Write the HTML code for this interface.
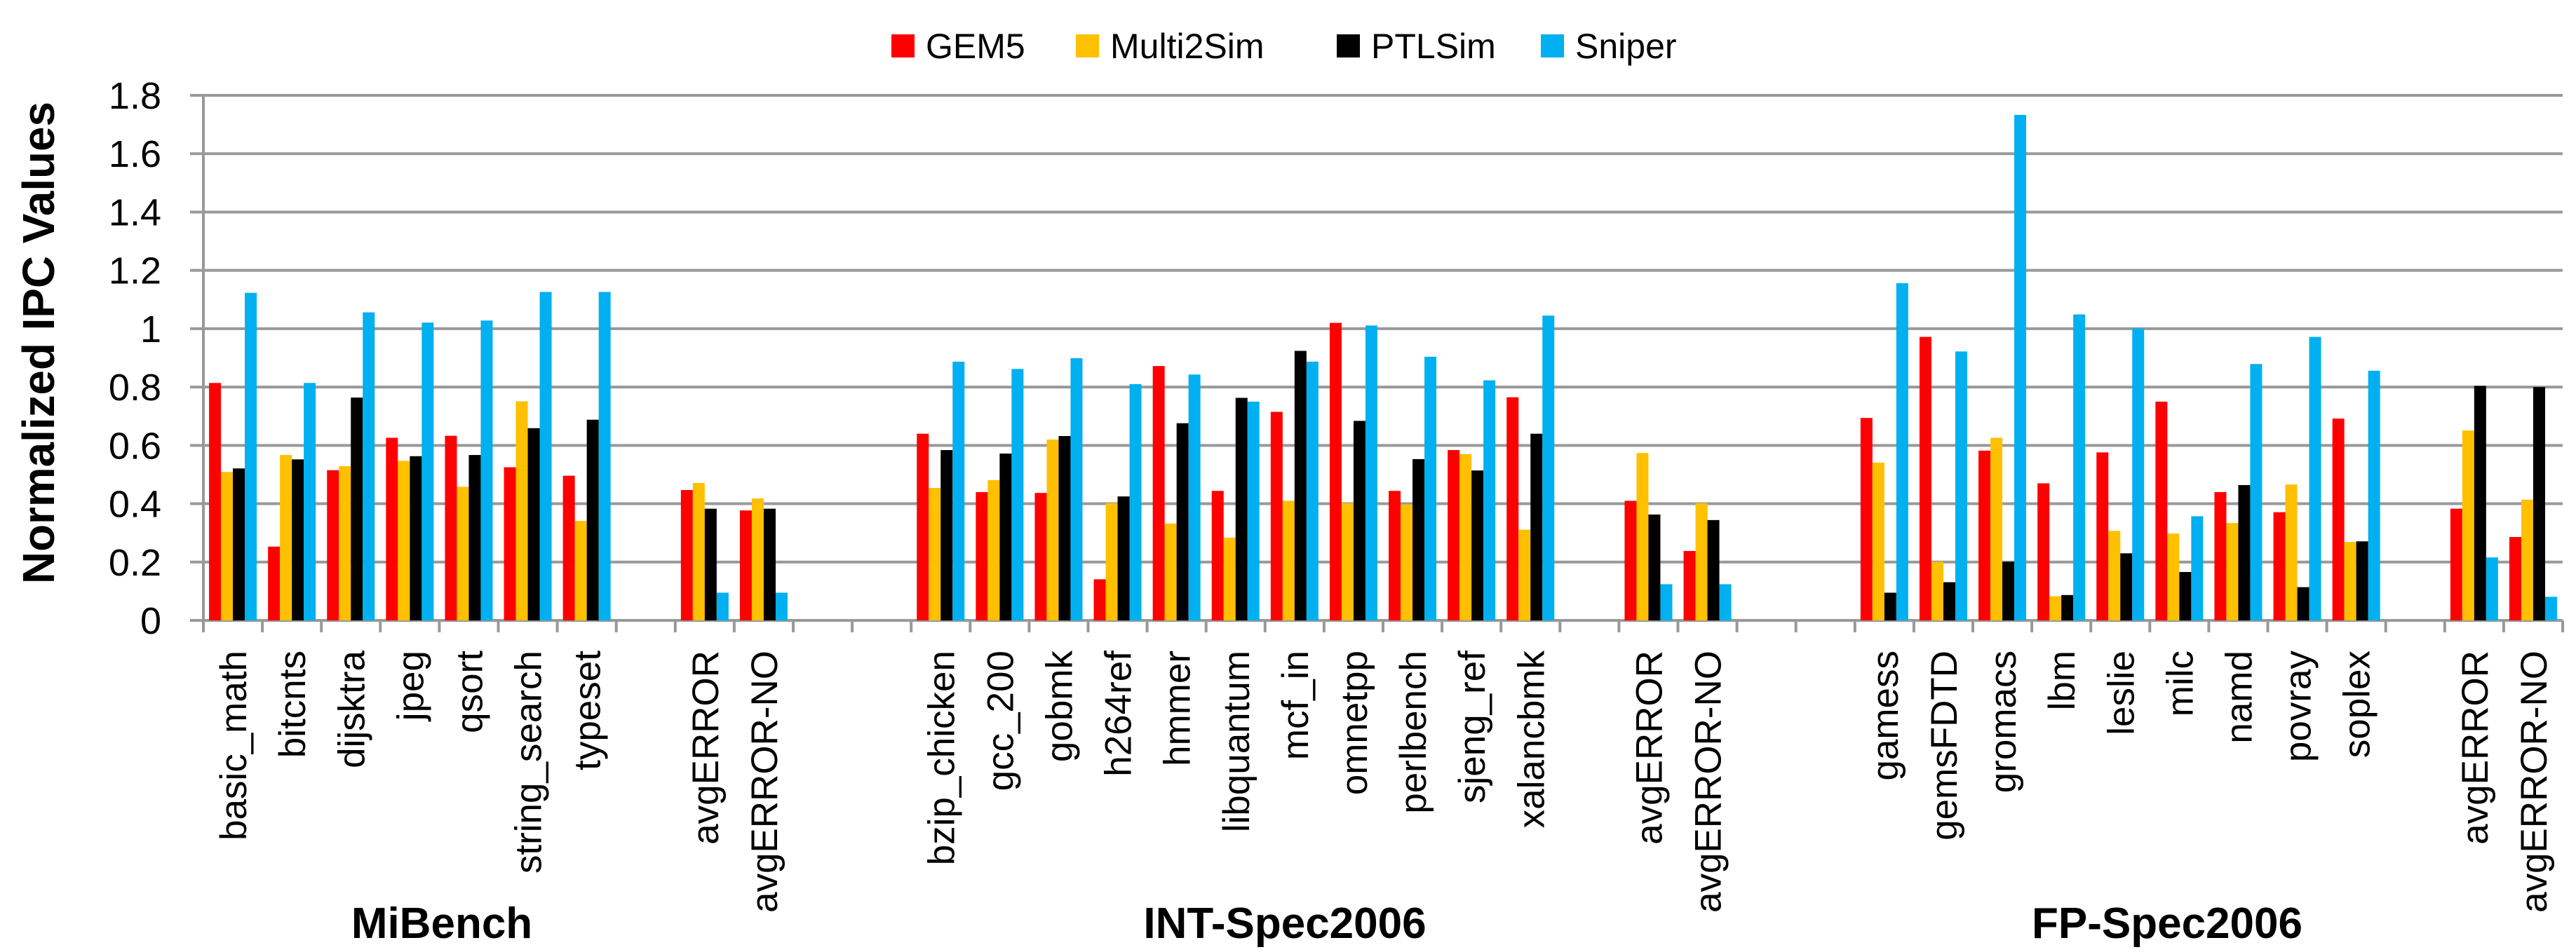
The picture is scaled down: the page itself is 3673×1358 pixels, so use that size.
<!DOCTYPE html>
<html><head><meta charset="utf-8"><style>
html,body{margin:0;padding:0;background:#fff}
svg{display:block}
</style></head><body>
<svg id="chart" width="3673" height="1358" viewBox="0 0 3673 1358" xmlns="http://www.w3.org/2000/svg" font-family="Liberation Sans, sans-serif">
<g id="legend"></g>
<g id="grid"></g>
<g id="bars"></g>
<g id="axes"></g>
<text transform="translate(77,489) rotate(-90)" text-anchor="middle" font-weight="bold" font-size="64" textLength="688" lengthAdjust="spacingAndGlyphs">Normalized IPC Values</text>
<text x="630" y="1338" text-anchor="middle" font-weight="bold" font-size="62">MiBench</text>
<text x="1832" y="1338" text-anchor="middle" font-weight="bold" font-size="62">INT-Spec2006</text>
<text x="3090" y="1338" text-anchor="middle" font-weight="bold" font-size="62">FP-Spec2006</text>
</svg>
<script>
const categories = ["basic_math","bitcnts","dijsktra","jpeg","qsort","string_search","typeset","","avgERROR","avgERROR-NO","","","bzip_chicken","gcc_200","gobmk","h264ref","hmmer","libquantum","mcf_in","omnetpp","perlbench","sjeng_ref","xalancbmk","","avgERROR","avgERROR-NO","","","gamess","gemsFDTD","gromacs","lbm","leslie","milc","namd","povray","soplex","","avgERROR","avgERROR-NO"];
const seriesNames = ["GEM5","Multi2Sim","PTLSim","Sniper"];
const seriesColors = ["#ff0000","#ffc000","#000000","#00b0f0"];
const gem5 = [0.814,0.253,0.515,0.626,0.633,0.525,0.496,null,0.447,0.377,null,null,0.64,0.44,0.437,0.141,0.872,0.444,0.715,1.02,0.444,0.584,0.765,null,0.41,0.238,null,null,0.694,0.972,0.582,0.47,0.576,0.75,0.44,0.371,0.692,null,0.383,0.286];
const multi2sim = [0.509,0.567,0.529,0.547,0.458,0.751,0.341,null,0.471,0.418,null,null,0.454,0.481,0.62,0.402,0.332,0.284,0.41,0.402,0.398,0.57,0.311,null,0.574,0.402,null,null,0.541,0.201,0.626,0.083,0.307,0.298,0.334,0.466,0.269,null,0.651,0.414];
const ptlsim = [0.521,0.552,0.764,0.563,0.567,0.659,0.688,null,0.383,0.383,null,null,0.584,0.572,0.632,0.425,0.676,0.763,0.924,0.684,0.553,0.514,0.64,null,0.363,0.344,null,null,0.095,0.131,0.201,0.087,0.23,0.166,0.464,0.114,0.271,null,0.804,0.8];
const sniper = [1.123,0.814,1.056,1.021,1.028,1.126,1.126,null,0.095,0.095,null,null,0.887,0.862,0.899,0.81,0.843,0.75,0.887,1.011,0.904,0.823,1.045,null,0.124,0.124,null,null,1.156,0.922,1.733,1.049,1.001,0.357,0.879,0.972,0.856,null,0.216,0.081];
const yTicks = [0,0.2,0.4,0.6,0.8,1,1.2,1.4,1.6,1.8];
const yTickLabels = ["0","0.2","0.4","0.6","0.8","1","1.2","1.4","1.6","1.8"];

const NS="http://www.w3.org/2000/svg";
const X0=290, X1=3654, Y0=885, YMAX=1.8, YTOP=136;
const catW=(X1-X0)/categories.length;
function xScale(i){return X0+i*catW;}
function yScale(v){return Y0-(v/YMAX)*(Y0-YTOP);}
function mk(tag,attrs,parent){const e=document.createElementNS(NS,tag);for(const k in attrs)e.setAttribute(k,attrs[k]);parent.appendChild(e);return e;}

const grid=document.getElementById('grid'), axes=document.getElementById('axes'), barsG=document.getElementById('bars'), legend=document.getElementById('legend');
yTicks.forEach((t,i)=>{
  const l=mk('line',{x1:271,x2:X1,y1:yScale(t),y2:yScale(t),stroke:'#999',"stroke-width":4},grid);
  
  
  const tx=mk('text',{x:230,y:yScale(t)+19,"text-anchor":"end","font-size":54},axes);
  tx.textContent=yTickLabels[i];
  
  
});
const ya=mk('line',{x1:X0,x2:X0,y1:YTOP,y2:Y0+17,stroke:'#999',"stroke-width":4},axes);


for(let i=1;i<=categories.length;i++){
  const tk=mk('line',{x1:xScale(i),x2:xScale(i),y1:Y0,y2:Y0+17,stroke:'#999',"stroke-width":4},axes);
  
  
}
const series=[gem5,multi2sim,ptlsim,sniper];
const bw=17, pad=(catW-4*bw)/2;
categories.forEach((c,i)=>{
  series.forEach((s,j)=>{
    const v=s[i]; if(v===null||v===undefined) return;
    const r=mk('rect',{x:xScale(i)+pad+j*bw,y:yScale(v),width:bw,height:Y0-yScale(v),fill:seriesColors[j]},barsG);
    
    
  });
  if(c){
    const cx=xScale(i)+catW/2+19;
    const t=mk('text',{transform:`translate(${cx},928) rotate(-90)`,"text-anchor":"end","font-size":53},axes);
    t.textContent=c;
    
    
  }
});
const legX=[1271,1534,1906,2197];
seriesNames.forEach((n,j)=>{
  const g=mk('g',{},legend);
  
  
  mk('rect',{x:legX[j],y:49,width:33,height:33,fill:seriesColors[j]},g);
  const t=mk('text',{x:legX[j]+49,y:83,"font-size":50},g);
  t.textContent=n;
});
</script>
</body></html>
